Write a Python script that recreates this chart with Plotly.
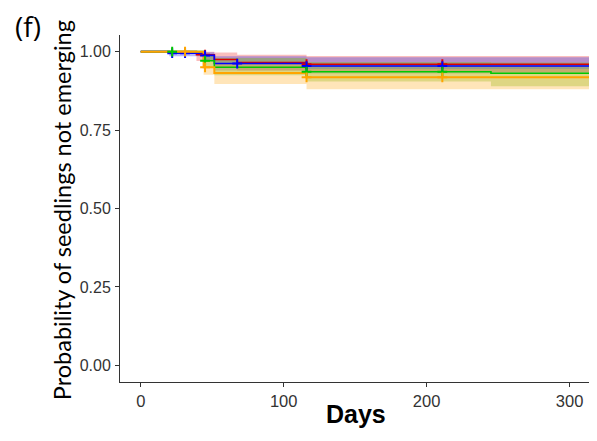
import plotly.graph_objects as go

# ---- data ----
END_DAY = 315

red_t = [0, 39, 51.5, 67.5, 116]
red_s = [1.0, 0.99, 0.975, 0.965, 0.96]
red_lo = [1.0, 0.97, 0.95, 0.94, 0.935]
red_hi = [1.0, 1.0, 0.997, 0.99, 0.986]
red_cens_t = [45, 116, 211]

blue_t = [0, 20, 44, 51.5, 116]
blue_s = [1.0, 0.995, 0.988, 0.962, 0.954]
blue_lo = [1.0, 0.985, 0.97, 0.94, 0.93]
blue_hi = [1.0, 1.0, 0.998, 0.985, 0.982]
blue_cens_t = [22, 31, 45, 67.5, 116, 211]

green_t = [0, 44, 51.5, 116, 245]
green_s = [1.0, 0.971, 0.95, 0.936, 0.931]
green_lo = [1.0, 0.95, 0.925, 0.905, 0.89]
green_hi = [1.0, 0.99, 0.98, 0.967, 0.965]
green_cens_t = [22, 45, 116, 211]

orange_t = [0, 44, 51.5, 116]
orange_s = [1.0, 0.95, 0.932, 0.918]
orange_lo = [1.0, 0.926, 0.897, 0.88]
orange_hi = [1.0, 0.972, 0.96, 0.945]
orange_cens_t = [31, 45, 116, 211]

groups = [
    ("red", red_t, red_s, red_lo, red_hi, red_cens_t, "rgb(220,0,0)", "rgba(240,40,40,0.30)", 1.6),
    ("blue", blue_t, blue_s, blue_lo, blue_hi, blue_cens_t, "rgb(0,0,255)", "rgba(40,40,220,0.32)", 1.6),
    ("green", green_t, green_s, green_lo, green_hi, green_cens_t, "rgb(0,200,0)", "rgba(110,190,20,0.38)", 1.6),
    ("orange", orange_t, orange_s, orange_lo, orange_hi, orange_cens_t, "rgb(255,165,0)", "rgba(255,190,80,0.40)", 2.0),
]

y_ticks = [0, 0.25, 0.5, 0.75, 1.0]
y_tick_text = ["0.00", "0.25", "0.50", "0.75", "1.00"]
x_ticks = [0, 100, 200, 300]


def step_value(times, vals, t):
    v = vals[0]
    for ti, vi in zip(times, vals):
        if ti <= t:
            v = vi
    return v


fig = go.Figure()

# confidence bands
for name, t, s, lo, hi, ct, lc, fc, lw in groups:
    xx = list(t) + [END_DAY]
    fig.add_trace(go.Scatter(x=xx, y=list(lo) + [lo[-1]], mode="lines",
                             line=dict(width=0, shape="hv"), showlegend=False,
                             hoverinfo="skip"))
    fig.add_trace(go.Scatter(x=xx, y=list(hi) + [hi[-1]], mode="lines",
                             line=dict(width=0, shape="hv"), fill="tonexty",
                             fillcolor=fc, showlegend=False, hoverinfo="skip"))

# survival lines
for name, t, s, lo, hi, ct, lc, fc, lw in groups:
    xx = list(t) + [END_DAY]
    fig.add_trace(go.Scatter(x=xx, y=list(s) + [s[-1]], mode="lines",
                             line=dict(width=lw, color=lc, shape="hv"),
                             name=name, showlegend=False))

# censor marks
for name, t, s, lo, hi, ct, lc, fc, lw in groups:
    fig.add_trace(go.Scatter(x=ct, y=[step_value(t, s, c) for c in ct], mode="markers",
                             marker=dict(symbol="cross-thin", size=7,
                                         line=dict(width=2, color=lc)),
                             showlegend=False))

axis_common = dict(showgrid=False, zeroline=False, showline=True,
                   linecolor="#333333", linewidth=1, ticks="outside",
                   ticklen=4, tickcolor="#333333", mirror=False)

fig.update_xaxes(range=[-14.5, 315], tickvals=x_ticks, **axis_common,
                 tickfont=dict(family="Liberation Sans, Arial", size=16.5, color="#333333"))
fig.update_yaxes(range=[-0.053, 1.053], tickvals=y_ticks, ticktext=y_tick_text,
                 **axis_common, ticklabelstandoff=1,
                 tickfont=dict(family="Liberation Sans, Arial", size=16, color="#333333"))

# page body has an 8px default margin; size the figure so the visible frame matches
fig.update_layout(
    width=589, height=433,
    margin=dict(l=112, r=6, t=27, b=59),
    paper_bgcolor="white", plot_bgcolor="white",
    annotations=[
        dict(text="Probability of seedlings not emerging", xref="paper", yref="paper",
             x=0, y=0.495, xshift=-58, textangle=-90, showarrow=False,
             xanchor="center", yanchor="middle",
             font=dict(family="Lato", size=23.5, color="black")),
        dict(text="<b>Days</b>", xref="paper", yref="paper", x=0.5, y=0, yshift=-32,
             showarrow=False, xanchor="center", yanchor="middle",
             font=dict(family="Liberation Sans, Arial", size=25, color="black")),
        dict(text="(f)", xref="paper", yref="paper", x=0, y=1, xshift=-92, yshift=9,
             showarrow=False, xanchor="center", yanchor="middle",
             font=dict(family="Open Sans", size=28, color="black")),
    ],
)

fig.write_html("out.html")
